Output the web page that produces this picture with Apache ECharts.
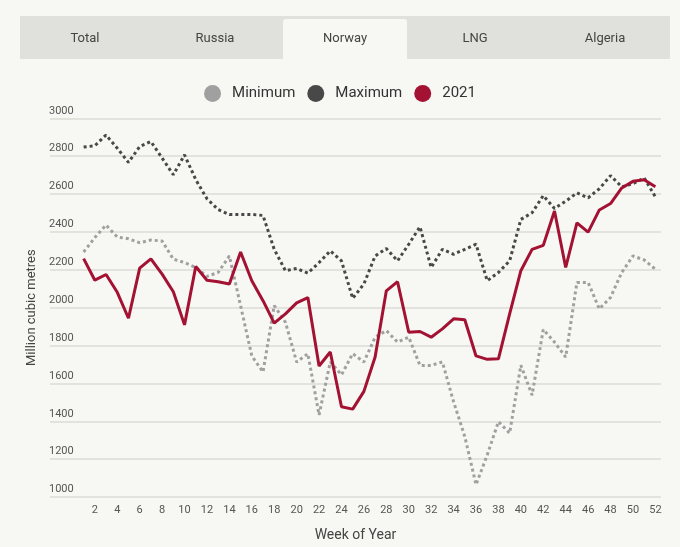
<!DOCTYPE html>
<html><head><meta charset="utf-8">
<script src="https://cdn.jsdelivr.net/npm/echarts@6/dist/echarts.min.js"></script>
<style>html,body{margin:0;padding:0;background:#f7f7f3;}#c{width:680px;height:547px;}</style>
</head><body><div id="c"></div>
<script>
var tabs = ['Total', 'Russia', 'Norway', 'LNG', 'Algeria'];
var activeTab = 'Norway';
var weeks = [1,2,3,4,5,6,7,8,9,10,11,12,13,14,15,16,17,18,19,20,21,22,23,24,25,26,27,28,29,30,31,32,33,34,35,36,37,38,39,40,41,42,43,44,45,46,47,48,49,50,51,52];
var minimum = [2294,2370,2436,2373,2364,2343,2357,2352,2256,2238,2212,2165,2186,2273,2010,1745,1660,2011,1923,1713,1757,1433,1713,1645,1757,1713,1844,1879,1818,1844,1695,1695,1713,1503,1319,1065,1222,1398,1337,1696,1538,1885,1818,1739,2133,2133,1993,2054,2186,2273,2252,2203];
var maximum = [2848,2855,2912,2842,2767,2851,2877,2790,2702,2807,2676,2575,2518,2492,2492,2492,2487,2308,2195,2207,2182,2238,2300,2247,2049,2125,2273,2312,2247,2335,2427,2212,2308,2282,2308,2335,2142,2186,2247,2466,2501,2592,2524,2562,2606,2580,2628,2697,2638,2655,2685,2585];
var y2021 = [2259,2145,2175,2081,1944,2209,2258,2177,2084,1909,2217,2145,2137,2125,2294,2142,2037,1918,1967,2025,2053,1692,1766,1477,1464,1558,1739,2089,2137,1870,1874,1844,1888,1941,1936,1745,1727,1730,1967,2195,2308,2329,2510,2212,2448,2399,2516,2550,2632,2667,2676,2638];
var seriesNames = ['Minimum', 'Maximum', '2021'];
var xTitle = 'Week of Year';
var yTitle = 'Million cubic metres';

function pairs(vals){ return weeks.map(function(w,i){ return [w, vals[i]]; }); }

var FONT = 'Roboto, "DejaVu Sans", sans-serif';
var chart = echarts.init(document.getElementById('c'), null, {renderer:'canvas'});

var tabGraphics = [];
var barLeft = 20, barRight = 670, barTop = 16, barBottom = 59;
var tw = (barRight - barLeft) / tabs.length;
tabGraphics.push({type:'rect', shape:{x:barLeft, y:barTop, width:barRight-barLeft, height:barBottom-barTop}, style:{fill:'#e0e0dc'}, silent:true});
tabs.forEach(function(t, i){
  var cx = barLeft + tw*(i+0.5);
  if (t === activeTab) {
    tabGraphics.push({type:'rect', shape:{x:barLeft+tw*i+3, y:barTop+3, width:tw-6, height:barBottom-barTop-3+1, r:[3,3,0,0]}, style:{fill:'#f7f7f3'}, silent:true});
  }
  tabGraphics.push({type:'text', x:cx, y:(barTop+barBottom)/2+1, style:{text:t, fill:'#444', font:'13px ' + FONT, align:'center', verticalAlign:'middle'}, silent:true});
});

var option = {
  backgroundColor:'#f7f7f3',
  animation:false,
  graphic: tabGraphics,
  legend: {
    top: 80, left: 'center',
    icon:'circle', itemWidth:17, itemHeight:17, itemGap:12,
    data: seriesNames,
    textStyle:{fontFamily:FONT, fontSize:15, color:'#333', padding:[0,0,0,6]}
  },
  grid: {left:50, right:19, top:118.3, bottom:48.7},
  xAxis: {
    type:'value', min:-2, max:52.5, interval:2,
    name: xTitle, nameLocation:'middle', nameGap:31,
    nameTextStyle:{fontFamily:FONT, fontSize:14, color:'#444'},
    axisLine:{show:false}, axisTick:{show:false}, splitLine:{show:false},
    axisLabel:{fontFamily:FONT, fontSize:11, color:'#555', margin:8,
      formatter:function(v){ return (v>=2 && v<=52) ? String(v) : ''; }}
  },
  yAxis: {
    type:'value', min:1000, max:3000, interval:200,
    name: yTitle, nameLocation:'middle', nameGap:8,
    nameTextStyle:{fontFamily:FONT, fontSize:13, color:'#444'},
    axisLine:{show:false}, axisTick:{show:false},
    splitLine:{lineStyle:{color:'#dcdcd7', width:1.5}},
    axisLabel:{inside:true, margin:-1, align:'left', verticalAlign:'bottom', padding:[0,0,2,0],
      fontFamily:FONT, fontSize:11, color:'#555',
      formatter:function(v){ return String(v); }}
  },
  series: [
    {name:seriesNames[0], type:'line', data:pairs(minimum), symbol:'none', color:'#a0a0a0',
     lineStyle:{width:3, type:[3,3], color:'#a0a0a0'}, z:2},
    {name:seriesNames[1], type:'line', data:pairs(maximum), symbol:'none', color:'#484848',
     lineStyle:{width:3, type:[3,3], color:'#484848'}, z:3},
    {name:seriesNames[2], type:'line', data:pairs(y2021), symbol:'none', color:'#a31232',
     lineStyle:{width:3, color:'#a31232'}, z:4}
  ]
};
chart.setOption(option);
</script></body></html>
